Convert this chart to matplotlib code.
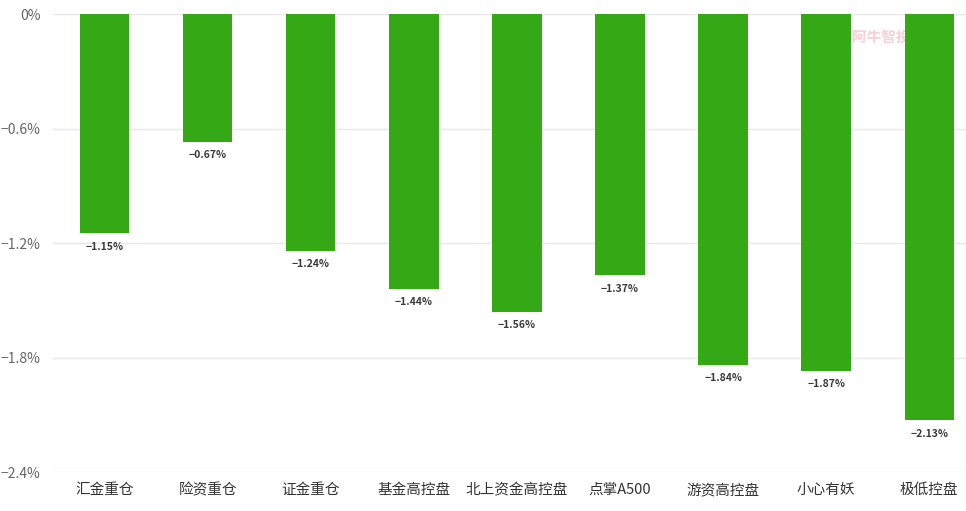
import matplotlib
matplotlib.use("Agg")
import matplotlib.pyplot as plt

plt.rcParams['font.family'] = ['Noto Sans CJK SC', 'DejaVu Sans']

categories = ['汇金重仓', '险资重仓', '证金重仓', '基金高控盘', '北上资金高控盘',
              '点掌A500', '游资高控盘', '小心有妖', '极低控盘']
values = [-1.15, -0.67, -1.24, -1.44, -1.56, -1.37, -1.84, -1.87, -2.13]
yticks = [0, -0.6, -1.2, -1.8, -2.4]
ytick_labels = ['0%', '−0.6%', '−1.2%', '−1.8%', '−2.4%']

W, H = 966, 511
fig = plt.figure(figsize=(W / 100, H / 100), dpi=100)
ax = fig.add_axes([53 / W, (H - 472) / H, (966 - 53) / W, 458 / H])

# watermark sits behind the bars
fig.text(852 / W, 1 - 37 / H, '阿牛智投', color='#f8d0d3', fontsize=10.5,
         fontweight='bold', va='center', ha='left', zorder=0)
ax.set_zorder(1)
ax.patch.set_alpha(0)

x = range(len(categories))
bars = ax.bar(x, values, width=0.48, color='#34a915', zorder=3)
for xi, v in zip(x, values):
    ax.annotate('−%.2f%%' % abs(v), (xi, v), xytext=(0, -6), textcoords='offset points',
                ha='center', va='top', fontsize=7.5, color='#3a3a3a', fontweight='semibold')

ax.set_xlim(-0.5, 8.356)
ax.set_ylim(-2.4, 0)
ax.set_yticks(yticks)
ax.set_yticklabels(ytick_labels, color='#666666', fontsize=10)
ax.set_xticks(list(x))
ax.set_xticklabels(categories, color='#333333', fontsize=10.5)
ax.tick_params(axis='both', length=0)
ax.tick_params(axis='x', pad=8)
ax.tick_params(axis='y', pad=9)
ax.grid(axis='y', color='#e8e8e8', linewidth=1, zorder=0)
for s in ax.spines.values():
    s.set_visible(False)

fig.savefig('out.png', dpi=100)
